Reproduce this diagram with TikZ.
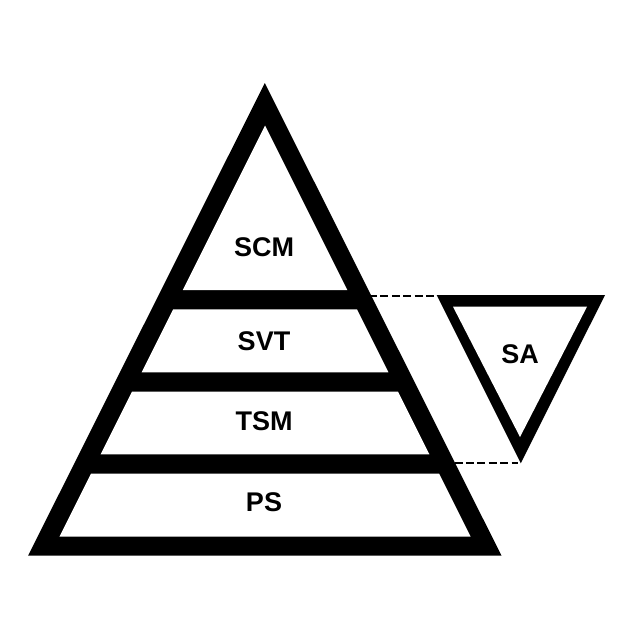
\documentclass[tikz,border=0pt]{standalone}
\usepackage{fontspec}
\setmainfont{Liberation Sans}
\begin{document}
\begin{tikzpicture}[x=1pt,y=-1pt,
  lbl/.style={font=\fontsize{27}{30}\selectfont\bfseries, inner sep=0pt, text height=19.3pt, text depth=0pt},
  dashline/.style={line width=2.8pt, dash pattern=on 8pt off 3.4pt}]
\useasboundingbox (0,0) rectangle (640,640);
\fill[white] (0,0) rectangle (640,640);
% pyramid outer
\fill[black] (264.8,83) -- (501.5,555.7) -- (28.1,555.7) -- cycle;
% inner white layers: half-width = (y-125.5)/2, centre x = 265
\fill[white] (265,125.5) -- (347.25,290) -- (182.75,290) -- cycle;
\fill[white] (173.1,309.3) -- (356.9,309.3) -- (388.4,372.3) -- (141.6,372.3) -- cycle;
\fill[white] (132,391.7) -- (398,391.7) -- (429.4,454.3) -- (100.6,454.3) -- cycle;
\fill[white] (90.9,473.7) -- (439.1,473.7) -- (470.6,536.7) -- (59.4,536.7) -- cycle;
% SA triangle
\fill[black] (436.7,295) -- (605,295) -- (520.8,463.3) -- cycle;
\fill[white] (453,306.7) -- (587,306.7) -- (520,437) -- cycle;
% labels
\node[lbl] (scm) at (264,246.5) {SCM};
\node[lbl] (svt) at (264,341) {SVT};
\node[lbl] (tsm) at (264,421) {TSM};
\node[lbl] (ps)  at (264,501.5) {PS};
\node[lbl] (sa)  at (520,354) {SA};
% connector points
\coordinate (pyrU) at (369,296);
\coordinate (saTL) at (436,296);
\coordinate (pyrL) at (454.5,463);
\coordinate (saB) at (518,463);
\draw[dashline] (pyrU) -- (saTL);
\draw[dashline] (pyrL) -- (saB);
\end{tikzpicture}
\end{document}
